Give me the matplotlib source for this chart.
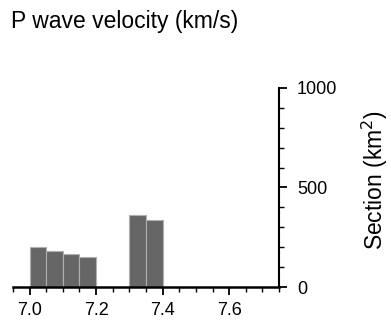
import numpy as np
import matplotlib.pyplot as plt
from matplotlib.ticker import MultipleLocator

plt.rcParams['font.family'] = ['Liberation Sans', 'DejaVu Sans']

bin_left = [7.00, 7.05, 7.10, 7.15, 7.30, 7.35]
section = [201, 181, 168, 153, 364, 335]
bin_width = 0.05

fig = plt.figure(figsize=(3.91, 3.21), dpi=100)
ax = fig.add_axes([0.0332, 0.1059, 0.6804, 0.62])

ax.bar(bin_left, section, width=bin_width, align='edge',
       color='#666666', edgecolor='#b0b0b0', linewidth=0.8)

ax.set_xlim(6.95, 7.75)
ax.set_ylim(0, 1000)

ax.spines['top'].set_visible(False)
ax.spines['left'].set_visible(False)
ax.spines['bottom'].set_linewidth(1.8)
ax.spines['right'].set_linewidth(1.5)

ax.yaxis.tick_right()
ax.xaxis.set_major_locator(MultipleLocator(0.2))
ax.xaxis.set_minor_locator(MultipleLocator(0.05))
ax.yaxis.set_major_locator(MultipleLocator(500))
ax.yaxis.set_minor_locator(MultipleLocator(100))
ax.xaxis.set_major_formatter(lambda v, p: f'{v:.1f}')

ax.tick_params(axis='x', which='major', length=6, width=1.3, labelsize=13, pad=5)
ax.tick_params(axis='x', which='minor', length=3.5, width=1.0)
ax.tick_params(axis='y', which='major', length=6, width=1.3, labelsize=13, pad=7)
ax.tick_params(axis='y', which='minor', length=3.5, width=1.0)

fig.text(0.027, 1 - 10 / 321, 'P wave velocity (km/s)', fontsize=16.5, va='top', ha='left')
fig.text(0.959, 1 - 180 / 321, 'Section (km$^2$)', fontsize=16.5, rotation=90,
         va='center', ha='center')

fig.savefig('out.png', dpi=100)
